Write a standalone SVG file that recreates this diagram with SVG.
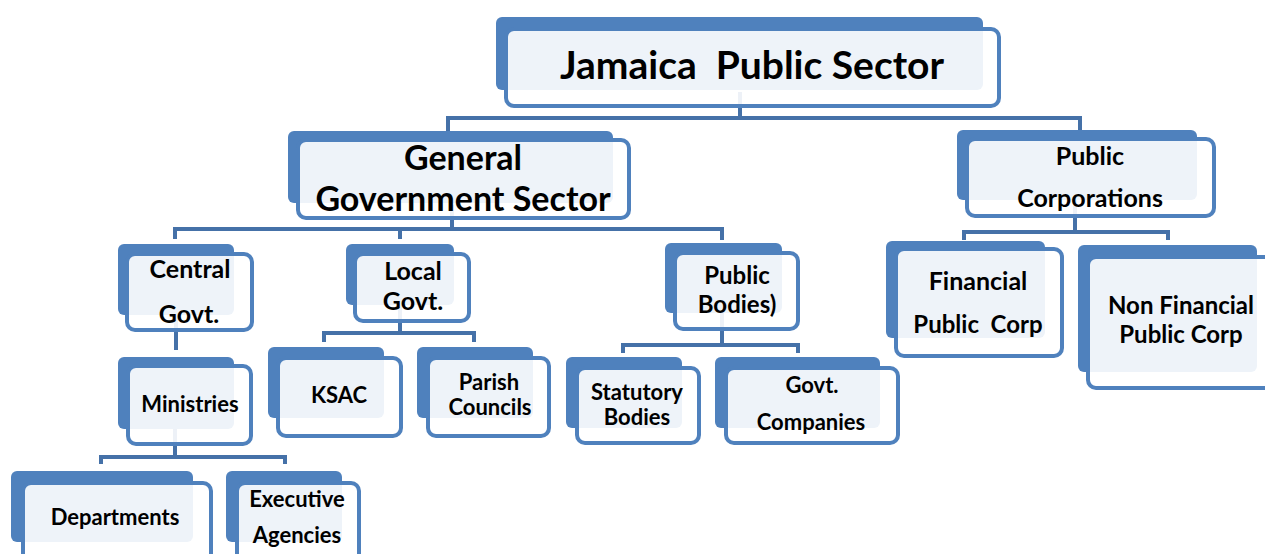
<svg xmlns="http://www.w3.org/2000/svg" width="1265" height="554" viewBox="0 0 1265 554">
<style>
.bk{fill:#4F81BD}
.fr{fill:#FFFFFF;fill-opacity:0.9;stroke:#4F81BD;stroke-width:4}
.cn{fill:none;stroke:#4571A8;stroke-width:4}
text{font-family:Lato,"Liberation Sans",sans-serif;font-weight:bold;fill:#000;text-anchor:middle;white-space:pre}
.t1{font-size:39px}
.t2{font-size:34px}
.t3{font-size:25px}
.t4{font-size:22px}
.t5{font-size:24px}
</style>
<rect width="1265" height="554" fill="#FFFFFF"/>
<g id="connectors">
<path class="cn" d="M740,92 V118 M448,131 V118 H1080 V130"/>
<path class="cn" d="M452,205 V229 M175,239 V229 H722 V240 M400,229 V239"/>
<path class="cn" d="M1075,200 V232 M964,240 V232 H1168 V240"/>
<path class="cn" d="M176,315 V350"/>
<path class="cn" d="M175,420 V457 M101,464 V457 H285 V464"/>
<path class="cn" d="M400,305 V333 M324,342 V333 H474 V342"/>
<path class="cn" d="M722,313 V345 M623,353 V345 H798 V353"/>
</g>
<g id="jamaica-public-sector">
<rect class="bk" x="496" y="17" width="487" height="73" rx="6"/>
<rect class="fr" x="506" y="29" width="493" height="77" rx="8"/>
<text class="t1" x="752" y="79" xml:space="preserve">Jamaica  Public Sector</text>
</g>
<g id="general-government-sector">
<rect class="bk" x="288" y="131" width="325" height="72" rx="6"/>
<rect class="fr" x="298" y="140" width="331" height="78" rx="8"/>
<text class="t2" x="463" y="170">General</text>
<text class="t2" x="463" y="211">Government Sector</text>
</g>
<g id="public-corporations">
<rect class="bk" x="957" y="130" width="240" height="70" rx="6"/>
<rect class="fr" x="967" y="139" width="247" height="77" rx="8"/>
<text class="t3" x="1090" y="165">Public</text>
<text class="t3" x="1090" y="207">Corporations</text>
</g>
<g id="central-govt">
<rect class="bk" x="118" y="244" width="116" height="71" rx="6"/>
<rect class="fr" x="127" y="254" width="125" height="76" rx="8"/>
<text class="t3" x="190" y="278">Central</text>
<text class="t3" x="189" y="323">Govt.</text>
</g>
<g id="local-govt">
<rect class="bk" x="346" y="244" width="108" height="61" rx="6"/>
<rect class="fr" x="355" y="254" width="114" height="67" rx="8"/>
<text class="t3" x="413" y="280">Local</text>
<text class="t3" x="413" y="310">Govt.</text>
</g>
<g id="public-bodies">
<rect class="bk" x="665" y="243" width="117" height="70" rx="6"/>
<rect class="fr" x="675" y="253" width="123" height="76" rx="8"/>
<text class="t5" x="737" y="284">Public</text>
<text class="t5" x="737" y="313">Bodies)</text>
</g>
<g id="financial-public-corp">
<rect class="bk" x="886" y="241" width="159" height="97" rx="6"/>
<rect class="fr" x="896" y="249" width="166" height="107" rx="8"/>
<text class="t3" x="978" y="290">Financial</text>
<text class="t5" x="978" y="333" xml:space="preserve">Public  Corp</text>
</g>
<g id="non-financial-public-corp">
<rect class="bk" x="1078" y="245" width="179" height="127" rx="6"/>
<rect class="fr" x="1088" y="257" width="186" height="131" rx="8"/>
<text class="t5" x="1181" y="314">Non Financial</text>
<text class="t5" x="1181" y="343">Public Corp</text>
</g>
<g id="ministries">
<rect class="bk" x="118" y="357" width="116" height="72" rx="6"/>
<rect class="fr" x="128" y="366" width="123" height="78" rx="8"/>
<text class="t4" x="190" y="412">Ministries</text>
</g>
<g id="ksac">
<rect class="bk" x="268" y="347" width="116" height="71" rx="6"/>
<rect class="fr" x="278" y="358" width="123" height="78" rx="8"/>
<text class="t4" x="339" y="403">KSAC</text>
</g>
<g id="parish-councils">
<rect class="bk" x="417" y="347" width="116" height="71" rx="6"/>
<rect class="fr" x="428" y="358" width="121" height="78" rx="8"/>
<text class="t4" x="489" y="390">Parish</text>
<text class="t4" x="490" y="415">Councils</text>
</g>
<g id="statutory-bodies">
<rect class="bk" x="566" y="357" width="116" height="71" rx="6"/>
<rect class="fr" x="577" y="368" width="122" height="75" rx="8"/>
<text class="t4" x="637" y="400">Statutory</text>
<text class="t4" x="637" y="425">Bodies</text>
</g>
<g id="govt-companies">
<rect class="bk" x="715" y="357" width="165" height="71" rx="6"/>
<rect class="fr" x="726" y="368" width="172" height="75" rx="8"/>
<text class="t4" x="812" y="393">Govt.</text>
<text class="t4" x="811" y="430">Companies</text>
</g>
<g id="departments">
<rect class="bk" x="11" y="471" width="182" height="71" rx="6"/>
<rect class="fr" x="23" y="483" width="188" height="80" rx="8"/>
<text class="t4" x="115" y="525">Departments</text>
</g>
<g id="executive-agencies">
<rect class="bk" x="226" y="471" width="116" height="71" rx="6"/>
<rect class="fr" x="237" y="483" width="122" height="80" rx="8"/>
<text class="t4" x="297" y="507">Executive</text>
<text class="t4" x="297" y="543">Agencies</text>
</g>
</svg>
